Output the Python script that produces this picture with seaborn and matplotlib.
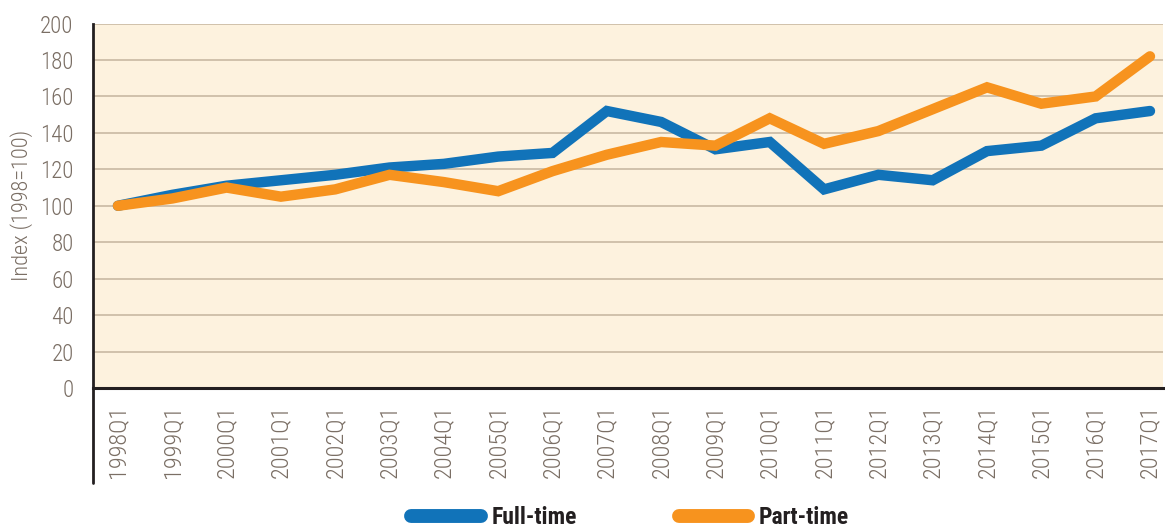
import numpy as np
import pandas as pd
import seaborn as sns
import matplotlib.pyplot as plt
from matplotlib.lines import Line2D

quarters = [f'{y}Q1' for y in range(1998, 2018)]
full_time = [100, 106, 111, 114, 117, 121, 123, 127, 129, 152,
             146, 131, 135, 109, 117, 114, 130, 133, 148, 152]
part_time = [100, 104, 110, 105, 109, 117, 113, 108, 119, 128,
             135, 133, 148, 134, 141, 153, 165, 156, 160, 182]
series_names = ['Full-time', 'Part-time']
colors = ['#1173b9', '#f7931e']

df = pd.DataFrame({
    'quarter': quarters * 2,
    'x': list(range(len(quarters))) * 2,
    'value': full_time + part_time,
    'series': [series_names[0]] * len(quarters) + [series_names[1]] * len(quarters),
})

sns.set_style('white')
plt.rcParams['font.family'] = ['Roboto Condensed', 'DejaVu Sans']

fig = plt.figure(figsize=(11.65, 5.29), dpi=100)
ax = fig.add_axes([0.0798, 0.2665, 0.9185, 0.689])
ax.set_facecolor('#fdf2de')

sns.lineplot(data=df, x='x', y='value', hue='series', palette=colors,
             linewidth=7.5, ax=ax, legend=False, solid_capstyle='round',
             solid_joinstyle='miter', zorder=3)

# Plotting
ax.set_ylim(0, 200)
ax.set_yticks(range(0, 201, 20))
ax.set_xlim(-0.46, 19.24)
ax.set_xticks(range(len(quarters)))
ax.set_xticklabels(quarters, rotation=90)
ax.yaxis.grid(True, color='#c9b9a3', linewidth=1.2, zorder=0)
ax.xaxis.grid(False)
ax.tick_params(axis='both', length=0, labelcolor='#7a6e64')
ax.tick_params(axis='x', pad=12, labelsize=17.5)
ax.tick_params(axis='y', pad=14, labelsize=16.5)
for lab in ax.get_xticklabels() + ax.get_yticklabels():
    lab.set_fontweight('light')
ax.set_xlabel('')
ax.set_ylabel('Index (1998=100)', fontsize=16, color='#7a6e64',
              labelpad=5, fontweight='light')

for side in ['top', 'right']:
    ax.spines[side].set_visible(False)
ax.spines['bottom'].set_color('#231f20')
ax.spines['bottom'].set_linewidth(2.2)
ax.spines['left'].set_color('#231f20')
ax.spines['left'].set_linewidth(2)
ax.spines['left'].set_bounds(0, 200)
# left axis line continues down past the tick labels
ax.plot([-0.46, -0.46], [0, -52], color='#231f20', linewidth=2,
        clip_on=False)

handles = [Line2D([], [], color=c, linewidth=10, solid_capstyle='round')
           for c in colors]
leg = fig.legend(handles, series_names, loc='center',
                 bbox_to_anchor=(0.541, 0.022), ncol=2, frameon=False,
                 handlelength=2.95, columnspacing=4.3, handletextpad=0.45,
                 prop={'size': 17, 'weight': 'bold'})
for t in leg.get_texts():
    t.set_color('#231f20')

fig.savefig('out.png', dpi=100)
